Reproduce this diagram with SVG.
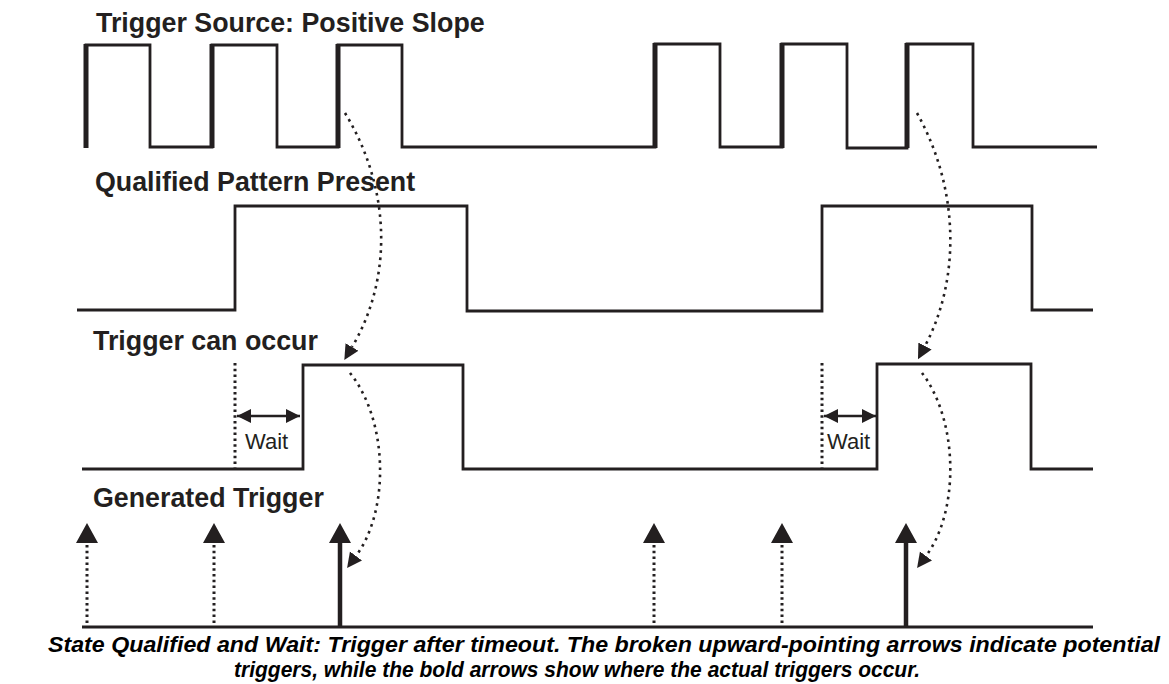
<svg xmlns="http://www.w3.org/2000/svg" width="1169" height="684" viewBox="0 0 1169 684">
<style>
.lbl{font-family:"Liberation Sans",Arial,sans-serif;font-weight:bold;font-size:26.8px;fill:#231f20}
.wait{font-family:"Liberation Sans",Arial,sans-serif;font-size:22px;fill:#231f20}
.cap{font-family:"Liberation Sans",Arial,sans-serif;font-weight:bold;font-style:italic;font-size:22px;fill:#000}
.wave{fill:none;stroke:#231f20;stroke-width:2.8;stroke-linejoin:miter}
.edge{fill:none;stroke:#231f20;stroke-width:5}
.vdot{fill:none;stroke:#231f20;stroke-width:3;stroke-dasharray:2.5 3.3}
.curve{fill:none;stroke:#231f20;stroke-width:2.6;stroke-dasharray:2.6 4.6}
.dim{fill:none;stroke:#231f20;stroke-width:2.5}
.solid{fill:none;stroke:#231f20;stroke-width:4.5}
.head{fill:#231f20}
</style>
<defs>
<marker id="ah" viewBox="0 0 10 10" refX="0" refY="5" markerUnits="userSpaceOnUse" markerWidth="15" markerHeight="16" orient="auto">
<path d="M0,0 L10,5 L0,10 z" fill="#231f20"/>
</marker>
<marker id="dimEnd" viewBox="0 0 10 10" refX="10" refY="5" markerUnits="userSpaceOnUse" markerWidth="15" markerHeight="14" orient="auto">
<path d="M0,0 L10,5 L0,10 z" fill="#231f20"/>
</marker>
<marker id="dimStart" viewBox="0 0 10 10" refX="0" refY="5" markerUnits="userSpaceOnUse" markerWidth="15" markerHeight="14" orient="auto">
<path d="M10,0 L0,5 L10,10 z" fill="#231f20"/>
</marker>
</defs>

<g id="trigger-source">
<text class="lbl" x="96" y="32">Trigger Source: Positive Slope</text>
<path class="wave" d="M86,147 V45 H150 V147 H212 V45 H277 V147 H338 V45 H402 V147 H655 V44 H720 V147 H782 V44 H847 V148 H907 V44 H973 V147 H1097"/>
<path class="edge" d="M86,148 V44 M212,148 V44 M338,148 V44 M655,148 V43 M782,148 V43 M907,148 V43"/>
</g>

<g id="qualified-pattern">
<text class="lbl" x="95" y="191">Qualified Pattern Present</text>
<path class="wave" d="M77,310 H235 V206 H467 V311 H822 V206 H1032 V310 H1093"/>
</g>

<g id="trigger-can-occur">
<text class="lbl" x="93" y="350">Trigger can occur</text>
<path class="wave" d="M82,469 H303 V365 H463 V469 H877 V364 H1031 V469 H1093"/>
<path class="vdot" d="M235,363 V468 M822,363 V468"/>
<path class="dim" d="M237,416 H300" marker-start="url(#dimStart)" marker-end="url(#dimEnd)"/>
<path class="dim" d="M824,416 H876" marker-start="url(#dimStart)" marker-end="url(#dimEnd)"/>
<text class="wait" x="245" y="449">Wait</text>
<text class="wait" x="827" y="449">Wait</text>
</g>

<g id="generated-trigger">
<text class="lbl" x="93" y="507">Generated Trigger</text>
<path class="wave" d="M82,627 H1093"/>
<path class="vdot" d="M87,545 V626 M214,545 V626 M654,545 V626 M782,545 V626"/>
<path class="solid" d="M340,540 V627 M906,540 V627"/>
<path class="head" d="M87,523 L76,543 L98,543 z M214,523 L203,543 L225,543 z M340,523 L329,543 L351,543 z M654,523 L643,543 L665,543 z M782,523 L771,543 L793,543 z M906,523 L895,543 L917,543 z"/>
</g>

<g id="connectors">
<path class="curve" d="M345,113 C392,190 392,280 352,347" marker-end="url(#ah)"/>
<path class="curve" d="M350,373 C388,420 390,510 356,556" marker-end="url(#ah)"/>
<path class="curve" d="M917,113 C960,190 960,280 925,346" marker-end="url(#ah)"/>
<path class="curve" d="M922,373 C958,420 960,510 926,556" marker-end="url(#ah)"/>
</g>

<g id="caption">
<text class="cap" x="48" y="652" textLength="1112" lengthAdjust="spacingAndGlyphs">State Qualified and Wait: Trigger after timeout. The broken upward-pointing arrows indicate potential</text>
<text class="cap" x="234" y="677" textLength="686" lengthAdjust="spacingAndGlyphs">triggers, while the bold arrows show where the actual triggers occur.</text>
</g>
</svg>
